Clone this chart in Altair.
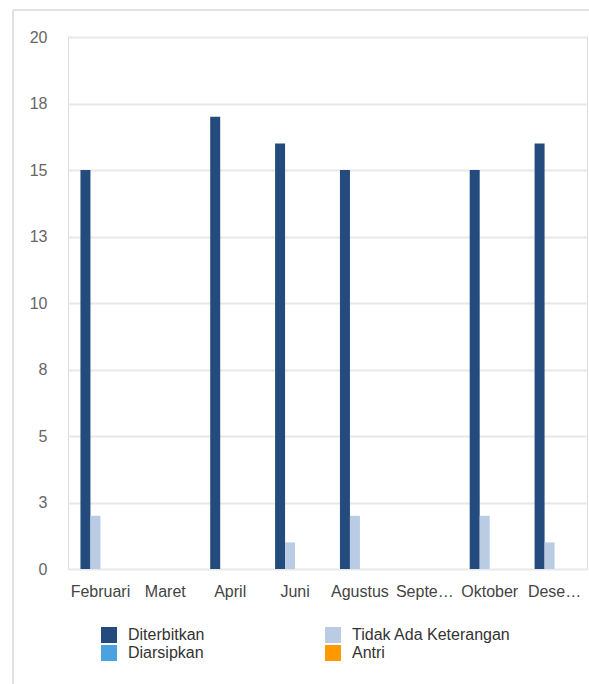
import altair as alt
import pandas as pd

months = ["Februari", "Maret", "April", "Juni", "Agustus", "September", "Oktober", "Desember"]
series = ["Diterbitkan", "Tidak Ada Keterangan", "Diarsipkan", "Antri"]
legend_order = ["Diterbitkan", "Diarsipkan", "Tidak Ada Keterangan", "Antri"]
colors = ["#234b7d", "#b9cce4", "#4aa3df", "#ff9900"]

diterbitkan = [15, 0, 17, 16, 15, 0, 15, 16]
tidak_ada = [2, 0, 0, 1, 2, 0, 2, 1]
diarsipkan = [0, 0, 0, 0, 0, 0, 0, 0]
antri = [0, 0, 0, 0, 0, 0, 0, 0]

y_ticks = [0, 2.5, 5, 7.5, 10, 12.5, 15, 17.5, 20]

values = {"Diterbitkan": diterbitkan, "Tidak Ada Keterangan": tidak_ada,
          "Diarsipkan": diarsipkan, "Antri": antri}
rows = []
for s in series:
    for m, v in zip(months, values[s]):
        rows.append({"bulan": m, "status": s, "jumlah": v})
df = pd.DataFrame(rows)

FONT = "Liberation Sans"

bars = alt.Chart(df).mark_bar().encode(
    x=alt.X("bulan:N", sort=months,
            scale=alt.Scale(paddingInner=0.384, paddingOuter=0.192),
            axis=alt.Axis(title=None, labelAngle=0, labelFontSize=16, labelFont=FONT,
                          labelColor="#444444", labelPadding=14, ticks=False,
                          domain=False, grid=False, labelLimit=62)),
    xOffset=alt.XOffset("status:N", sort=series,
                        scale=alt.Scale(domain=series, paddingInner=0, paddingOuter=0)),
    y=alt.Y("jumlah:Q", scale=alt.Scale(domain=[0, 20], nice=False),
            axis=alt.Axis(title=None, values=y_ticks, format=".0f", labelFontSize=16,
                          labelFont=FONT, labelColor="#666666", labelPadding=21,
                          ticks=False, domain=False, gridColor="#e8e8e8", gridWidth=2)),
    color=alt.Color("status:N", sort=series,
                    scale=alt.Scale(domain=series, range=colors),
                    legend=alt.Legend(orient="none", legendX=33, legendY=590, columns=2,
                                      values=legend_order,
                                      title=None, symbolType="square", symbolSize=256,
                                      symbolStrokeWidth=0, labelFontSize=16, labelFont=FONT,
                                      labelColor="#333333", labelOffset=11,
                                      columnPadding=120, rowPadding=2, padding=0)),
)

frame = pd.DataFrame({"k": [0]})
left_border = alt.Chart(frame).mark_rule(color="#e2e2e2", strokeWidth=2).encode(
    x=alt.value(-55), y=alt.value(-27), y2=alt.value(660))
top_border = alt.Chart(frame).mark_rule(color="#e2e2e2", strokeWidth=2).encode(
    x=alt.value(-55), x2=alt.value(530), y=alt.value(-27))

chart = alt.layer(left_border, top_border, bars).properties(
    width=519, height=532,
    autosize=alt.AutoSizeParams(type="none"),
    padding={"left": 68, "top": 37, "right": 2, "bottom": 115},
).configure_view(stroke=None).configure(background="white")

chart.save("out.html", embed_options={"renderer": "svg", "actions": False})
